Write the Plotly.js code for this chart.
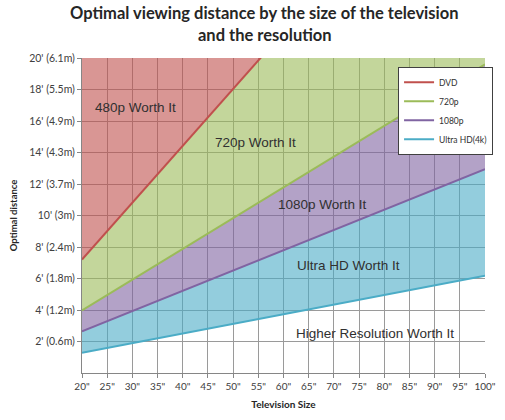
<!DOCTYPE html>
<html>
<head>
<meta charset="utf-8">
<script src="https://cdn.plot.ly/plotly-3.0.1.min.js"></script>
<style>
  html, body { margin: 0; padding: 0; background: #fff; }
  #chart { width: 505px; height: 420px; }
</style>
</head>
<body>
<div id="chart"></div>
<script>
// ---- data ----
const sizes = [20, 100];                 // television size (inches)
const dvd = [7.2, 36.1];                 // optimal distance (ft) for DVD
const p720 = [3.97, 19.6];               // 720p
const p1080 = [2.64, 12.94];             // 1080p
const uhd = [1.29, 6.18];                // Ultra HD (4k)
const yMax = 20;
const topEdge = [yMax, yMax];

const seriesNames = ['DVD', '720p', '1080p', 'Ultra HD(4k)'];

const xTickVals = [20,25,30,35,40,45,50,55,60,65,70,75,80,85,90,95,100];
const xTickText = ['20"','25"','30"','35"','40"','45"','50"','55"','60"','65"','70"','75"','80"','85"','90"','95"','100"'];
const yTickVals = [2,4,6,8,10,12,14,16,18,20];
const yTickText = ["2' (0.6m)","4' (1.2m)","6' (1.8m)","8' (2.4m)","10' (3m)","12' (3.7m)","14' (4.3m)","16' (4.9m)","18' (5.5m)","20' (6.1m)"];

const titleLines = ['Optimal viewing distance by the size of the television', 'and the resolution'];

const regionLabels = ['480p Worth It','720p Worth It','1080p Worth It','Ultra HD Worth It','Higher Resolution Worth It'];
const regionX = [30.6, 54.5, 67.8, 72.9, 78.2];
const regionY = [16.88, 14.62, 10.68, 6.82, 2.49];

// ---- styling ----
const lineCols = ['rgb(192,80,77)', 'rgb(155,187,89)', 'rgb(128,100,162)', 'rgb(75,172,198)'];
const fillCols = ['rgba(192,80,77,0.6)', 'rgba(155,187,89,0.6)', 'rgba(128,100,162,0.6)', 'rgba(75,172,198,0.6)'];
const series = [dvd, p720, p1080, uhd];

// fill-only traces (bottom to top)
const fills = [
  {x: sizes, y: uhd, mode: 'lines', line: {width: 0}, showlegend: false, hoverinfo: 'skip'},
  {x: sizes, y: p1080, mode: 'lines', fill: 'tonexty', fillcolor: fillCols[3], line: {width: 0}, showlegend: false, hoverinfo: 'skip'},
  {x: sizes, y: p720, mode: 'lines', fill: 'tonexty', fillcolor: fillCols[2], line: {width: 0}, showlegend: false, hoverinfo: 'skip'},
  {x: sizes, y: dvd, mode: 'lines', fill: 'tonexty', fillcolor: fillCols[1], line: {width: 0}, showlegend: false, hoverinfo: 'skip'},
  {x: sizes, y: topEdge, mode: 'lines', fill: 'tonexty', fillcolor: fillCols[0], line: {width: 0}, showlegend: false, hoverinfo: 'skip'}
];
// line traces with legend
const lines = series.map((s, i) => ({
  x: sizes, y: s, name: seriesNames[i], mode: 'lines', line: {color: lineCols[i], width: 2}
}));

const annotations = regionLabels.map((t, i) => ({
  x: regionX[i], y: regionY[i], xref: 'x', yref: 'y', text: t, showarrow: false,
  font: {family: 'Liberation Sans, Arial, sans-serif', size: 13.5, color: '#303030'}
}));
const titleY = [1.143, 1.073];
titleLines.forEach((t, i) => annotations.push({
  x: 0.454, y: titleY[i], xref: 'paper', yref: 'paper', xanchor: 'center', yanchor: 'middle',
  text: '<b>' + t + '</b>', showarrow: false,
  font: {family: 'Lato, sans-serif', size: 16.5, color: '#262626'}
}));

const layout = {
  width: 505, height: 420,
  margin: {l: 82, r: 18, t: 58, b: 47},
  paper_bgcolor: '#fff', plot_bgcolor: '#fff',
  xaxis: {
    range: [20, 100], tickvals: xTickVals, ticktext: xTickText,
    showgrid: true, gridcolor: '#9a9a9a', gridwidth: 1,
    showline: true, linecolor: '#868686', linewidth: 1,
    ticks: 'outside', ticklen: 4, tickcolor: '#868686',
    tickfont: {family: 'Lato, sans-serif', size: 10, color: '#404040'},
    zeroline: false, fixedrange: true,
    title: {text: '<b>Television Size</b>', standoff: 9, font: {family: 'Lato, sans-serif', size: 10, color: '#262626'}}
  },
  yaxis: {
    range: [0, yMax], tickvals: yTickVals, ticktext: yTickText,
    showgrid: true, gridcolor: '#9a9a9a', gridwidth: 1,
    showline: true, linecolor: '#868686', linewidth: 1,
    ticks: 'outside', ticklen: 4, tickcolor: '#868686',
    tickfont: {family: 'Lato, sans-serif', size: 10.5, color: '#404040'},
    zeroline: false, fixedrange: true,
    title: {text: '<b>Optimal distance</b>', standoff: 9, font: {family: 'Lato, sans-serif', size: 9.5, color: '#262626'}}
  },
  legend: {
    x: 1.02, y: 0.972, xanchor: 'right', yanchor: 'top', traceorder: 'normal',
    bgcolor: '#fff', bordercolor: '#404040', borderwidth: 1,
    font: {family: 'Lato, sans-serif', size: 8.5, color: '#303030'},
    itemwidth: 30
  },
  annotations: annotations,
  showlegend: true
};

Plotly.newPlot('chart', fills.concat(lines), layout, {staticPlot: true, displayModeBar: false});
</script>
</body>
</html>
